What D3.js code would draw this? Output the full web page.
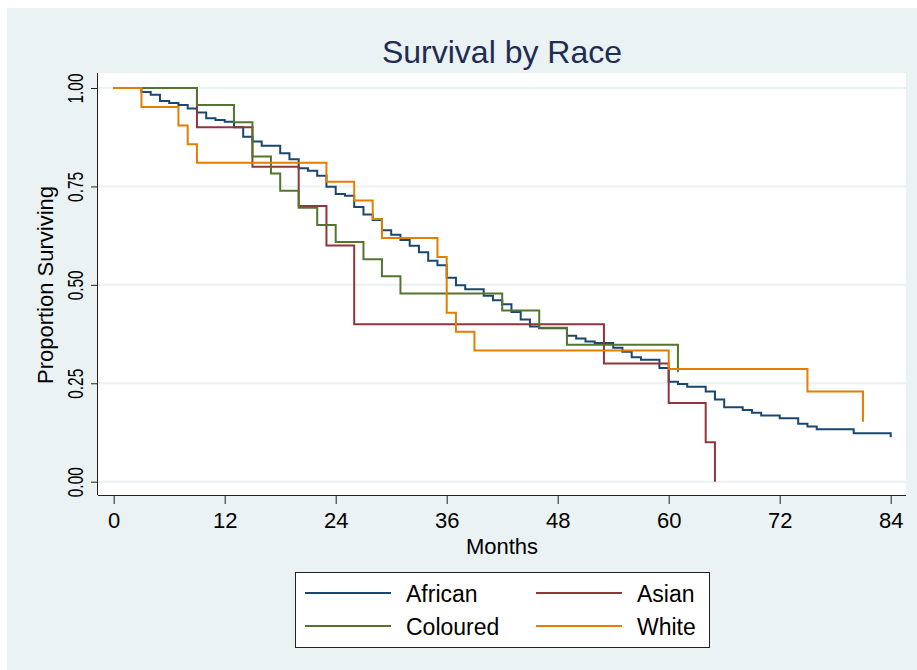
<!DOCTYPE html>
<html>
<head>
<meta charset="utf-8">
<script src="https://cdn.jsdelivr.net/npm/d3@7"></script>
<style>
  body { margin: 0; background: #fff; }
  text { font-family: "Liberation Sans", Arial, sans-serif; }
</style>
</head>
<body>
<svg id="chart" width="917" height="670"></svg>
<script>
'use strict';

// Kaplan-Meier estimates: [month, proportion surviving]
const african = [[0, 1], [3, 0.990], [4, 0.983], [5, 0.967], [6, 0.962], [7, 0.957], [8, 0.948], [9, 0.938],
  [10, 0.923], [11, 0.919], [12, 0.914], [13, 0.900], [14, 0.876], [15, 0.864], [16, 0.853], [18, 0.834],
  [19, 0.819], [20, 0.796], [21, 0.790], [22, 0.777], [23, 0.749], [24, 0.731], [25, 0.726], [26, 0.698],
  [27, 0.679], [28, 0.665], [29, 0.639], [30, 0.627], [31, 0.614], [32, 0.599], [33, 0.583], [34, 0.561],
  [35, 0.550], [36, 0.518], [37, 0.499], [38, 0.489], [40, 0.472], [41, 0.461], [42, 0.451], [43, 0.431],
  [44, 0.412], [45, 0.394], [46, 0.390], [49, 0.371], [50, 0.364], [51, 0.356], [52, 0.352], [54, 0.340],
  [55, 0.330], [56, 0.316], [57, 0.310], [59, 0.289], [60, 0.254], [61, 0.248], [62, 0.241], [64, 0.229],
  [65, 0.209], [66, 0.189], [68, 0.182], [69, 0.175], [70, 0.168], [72, 0.161], [74, 0.147], [75, 0.140],
  [76, 0.133], [80, 0.123], [84, 0.113]];
const asian = [[0, 1], [9, 0.9], [15, 0.8], [20, 0.7], [23, 0.6], [26, 0.4], [53, 0.3], [60, 0.2], [64, 0.1], [65, 0]];
const coloured = [[0, 1], [9, 0.957], [13, 0.913], [15, 0.826], [17, 0.783], [18, 0.739], [20, 0.696], [22, 0.652],
  [24, 0.609], [27, 0.565], [29, 0.522], [31, 0.478], [42, 0.435], [46, 0.391], [49, 0.348], [61, 0.278]];
const white = [[0, 1], [3, 0.952], [7, 0.905], [8, 0.857], [9, 0.810], [23, 0.762], [26, 0.714], [28, 0.667],
  [29, 0.619], [35, 0.571], [36, 0.429], [37, 0.381], [39, 0.333], [60, 0.286], [75, 0.229], [81, 0.152]];

const races = ['African', 'Asian', 'Coloured', 'White'];
const raceColors = ['#1a476f', '#90353b', '#55752f', '#e37e00'];
const xTicks = [0, 12, 24, 36, 48, 60, 72, 84];
const yTicks = [0, 0.25, 0.5, 0.75, 1];

const series = [african, asian, coloured, white];

const svg = d3.select('#chart');

// outer graph region
svg.append('rect')
  .attr('x', 7).attr('y', 8)
  .attr('width', 910).attr('height', 662)
  .attr('fill', '#eaf2f3');

const plot = { left: 98, top: 73, right: 906, bottom: 495 };

svg.append('rect')
  .attr('x', plot.left).attr('y', plot.top)
  .attr('width', plot.right - plot.left).attr('height', plot.bottom - plot.top)
  .attr('fill', '#fff');

const xScale = d3.scaleLinear().domain([0, 84]).range([113.7, 890.7]);
const yScale = d3.scaleLinear().domain([0, 1]).range([481.7, 88]);

// grid lines
svg.append('g')
  .selectAll('line')
  .data(yTicks)
  .enter().append('line')
    .attr('x1', plot.left).attr('x2', plot.right)
    .attr('y1', function (d) { return yScale(d); })
    .attr('y2', function (d) { return yScale(d); })
    .attr('stroke', '#eaf2f3')
    .attr('stroke-width', 2);

// survival curves
const line = d3.line()
  .x(function (d) { return xScale(d[0]); })
  .y(function (d) { return yScale(d[1]); })
  .curve(d3.curveStepAfter);

svg.append('g')
  .selectAll('path')
  .data(series)
  .enter().append('path')
    .attr('d', line)
    .attr('fill', 'none')
    .attr('stroke', function (d, i) { return raceColors[i]; })
    .attr('stroke-width', 2);

// axes
const xAxis = svg.append('g')
  .attr('transform', `translate(0, ${plot.bottom})`)
  .call(d3.axisBottom(xScale).tickValues(xTicks).tickSize(9).tickPadding(8));
xAxis.select('.domain').attr('d', `M${plot.left},0.5H${plot.right}`).attr('stroke', '#222');
xAxis.selectAll('.tick line').attr('stroke', '#222');
xAxis.selectAll('.tick text')
  .attr('font-size', '22px')
  .attr('fill', '#000')
  .attr('font-family', '"Liberation Sans", Arial, sans-serif');

const yAxis = svg.append('g')
  .attr('transform', `translate(${plot.left}, 0)`)
  .call(d3.axisLeft(yScale).tickValues(yTicks).tickSize(7).tickFormat(d3.format('.2f')));
yAxis.select('.domain').attr('d', `M-0.5,${plot.top}V${plot.bottom}`).attr('stroke', '#222');
yAxis.selectAll('.tick line').attr('stroke', '#222');
yAxis.selectAll('.tick text')
  .attr('font-size', '22px')
  .attr('fill', '#000')
  .attr('font-family', '"Liberation Sans", Arial, sans-serif')
  .attr('text-anchor', 'middle')
  .attr('dy', null)
  .attr('x', null)
  .attr('transform', 'translate(-15, 0) rotate(-90)')
  .attr('textLength', 30)
  .attr('lengthAdjust', 'spacingAndGlyphs');

// titles
svg.append('text')
  .attr('x', 502).attr('y', 63)
  .attr('text-anchor', 'middle')
  .attr('font-size', '32px')
  .attr('fill', '#1e2d53')
  .text('Survival by Race');

svg.append('text')
  .attr('x', 502).attr('y', 554)
  .attr('text-anchor', 'middle')
  .attr('font-size', '22px')
  .attr('fill', '#000')
  .text('Months');

svg.append('text')
  .attr('transform', 'translate(53, 285) rotate(-90)')
  .attr('text-anchor', 'middle')
  .attr('font-size', '22px')
  .attr('fill', '#000')
  .text('Proportion Surviving');

// legend
const legend = svg.append('g');
legend.append('rect')
  .attr('x', 295.5).attr('y', 572.5)
  .attr('width', 414).attr('height', 75)
  .attr('fill', '#fff')
  .attr('stroke', '#222')
  .attr('stroke-width', 1);

const legendPos = [[305, 593], [536, 593], [305, 626], [536, 626]];
const legendItem = legend.selectAll('.legend-item')
  .data(races)
  .enter().append('g')
    .attr('class', 'legend-item')
    .attr('transform', function (d, i) { return `translate(${legendPos[i][0]}, ${legendPos[i][1]})`; });

legendItem.append('line')
  .attr('x1', 0).attr('x2', 86)
  .attr('stroke', function (d, i) { return raceColors[i]; })
  .attr('stroke-width', 2);

legendItem.append('text')
  .attr('x', 101).attr('y', 9)
  .attr('font-size', '23px')
  .attr('fill', '#000')
  .text(function (d) { return d; });
</script>
</body>
</html>
